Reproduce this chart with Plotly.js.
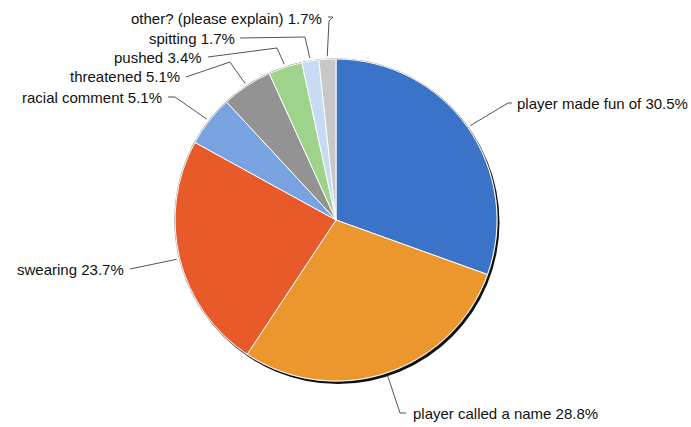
<!DOCTYPE html>
<html>
<head>
<meta charset="utf-8">
<script src="https://cdn.plot.ly/plotly-3.0.1.min.js"></script>
<style>html,body{margin:0;padding:0;background:#fff;}#chart{width:691px;height:427px;}</style>
</head>
<body>
<div id="chart"></div>
<script>
// ---- data ----
const categories = ["player made fun of", "player called a name", "swearing", "racial comment", "threatened", "pushed", "spitting", "other? (please explain)"];
const percents = [30.5, 28.8, 23.7, 5.1, 5.1, 3.4, 1.7, 1.7];
const colors = ["#3b73c8", "#ec962e", "#e85a2a", "#78a2e0", "#939393", "#9fd38b", "#c8dbf4", "#c8c8c8"];

// ---- layout (pixels) ----
const W = 691, H = 427;
const CX = 336, CY = 220, R = 161;
// per-label: leader elbow points (after the anchor on the rim) and text placement
const labelLayout = [
  {pts: [[508, 103], [512, 103]], tx: 515, ty: 103, anchor: "left"},
  {pts: [[400, 413], [406, 413]], tx: 411, ty: 413, anchor: "left"},
  {pts: [[130, 269]], tx: 126, ty: 269, anchor: "right"},
  {pts: [[175, 97], [168, 97]], tx: 164, ty: 97, anchor: "right"},
  {pts: [[230, 62], [186, 77]], tx: 182, ty: 77, anchor: "right"},
  {pts: [[277, 48], [208, 57]], tx: 204, ty: 57, anchor: "right"},
  {pts: [[305, 37], [240, 38]], tx: 237, ty: 39, anchor: "right"},
  {pts: [[329, 21], [333, 17], [328, 17]], tx: 324, ty: 18, anchor: "right"}
];

const px = x => x / W;
const py = y => 1 - y / H;
function dom(cx, cy, r) {
  return {x: [px(cx - r), px(cx + r)], y: [py(cy + r), py(cy - r)]};
}

const traces = [
  {type: "pie", values: [1], marker: {colors: ["#111"]}, textinfo: "none", hoverinfo: "skip", sort: false, showlegend: false, domain: dom(CX + 2, CY + 2.5, R + 0.5)},
  {type: "pie", values: [1], marker: {colors: ["#8a8a8a"]}, textinfo: "none", hoverinfo: "skip", sort: false, showlegend: false, domain: dom(CX, CY, R + 0.8)},
  {type: "pie", labels: categories, values: percents, marker: {colors: colors, line: {color: "#ffffff", width: 1}},
   sort: false, direction: "clockwise", rotation: 0, textinfo: "none", hoverinfo: "label+value", showlegend: false,
   domain: dom(CX, CY, R)}
];

const total = percents.reduce((a, b) => a + b, 0);
const shapes = [], annotations = [];
let cum = 0;
percents.forEach((v, i) => {
  const mid = (cum + v / 2) / total * 2 * Math.PI;
  cum += v;
  const ra = R + 3;
  const ax = CX + ra * Math.sin(mid), ay = CY - ra * Math.cos(mid);
  const L = labelLayout[i];
  let path = `M${px(ax)},${py(ay)}`;
  L.pts.forEach(p => { path += ` L${px(p[0])},${py(p[1])}`; });
  shapes.push({type: "path", xref: "paper", yref: "paper", path: path, line: {color: "#555555", width: 1}});
  annotations.push({
    xref: "paper", yref: "paper", x: px(L.tx), y: py(L.ty), xanchor: L.anchor, yanchor: "middle",
    text: `${categories[i]} ${v}%`, showarrow: false,
    font: {family: "Liberation Sans, Arial, sans-serif", size: 15, color: "#111111"}
  });
});

Plotly.newPlot("chart", traces, {
  width: W, height: H, autosize: false,
  margin: {l: 0, r: 0, t: 0, b: 0},
  paper_bgcolor: "#ffffff", plot_bgcolor: "#ffffff",
  showlegend: false, shapes: shapes, annotations: annotations
}, {displayModeBar: false, staticPlot: true});
</script>
</body>
</html>
